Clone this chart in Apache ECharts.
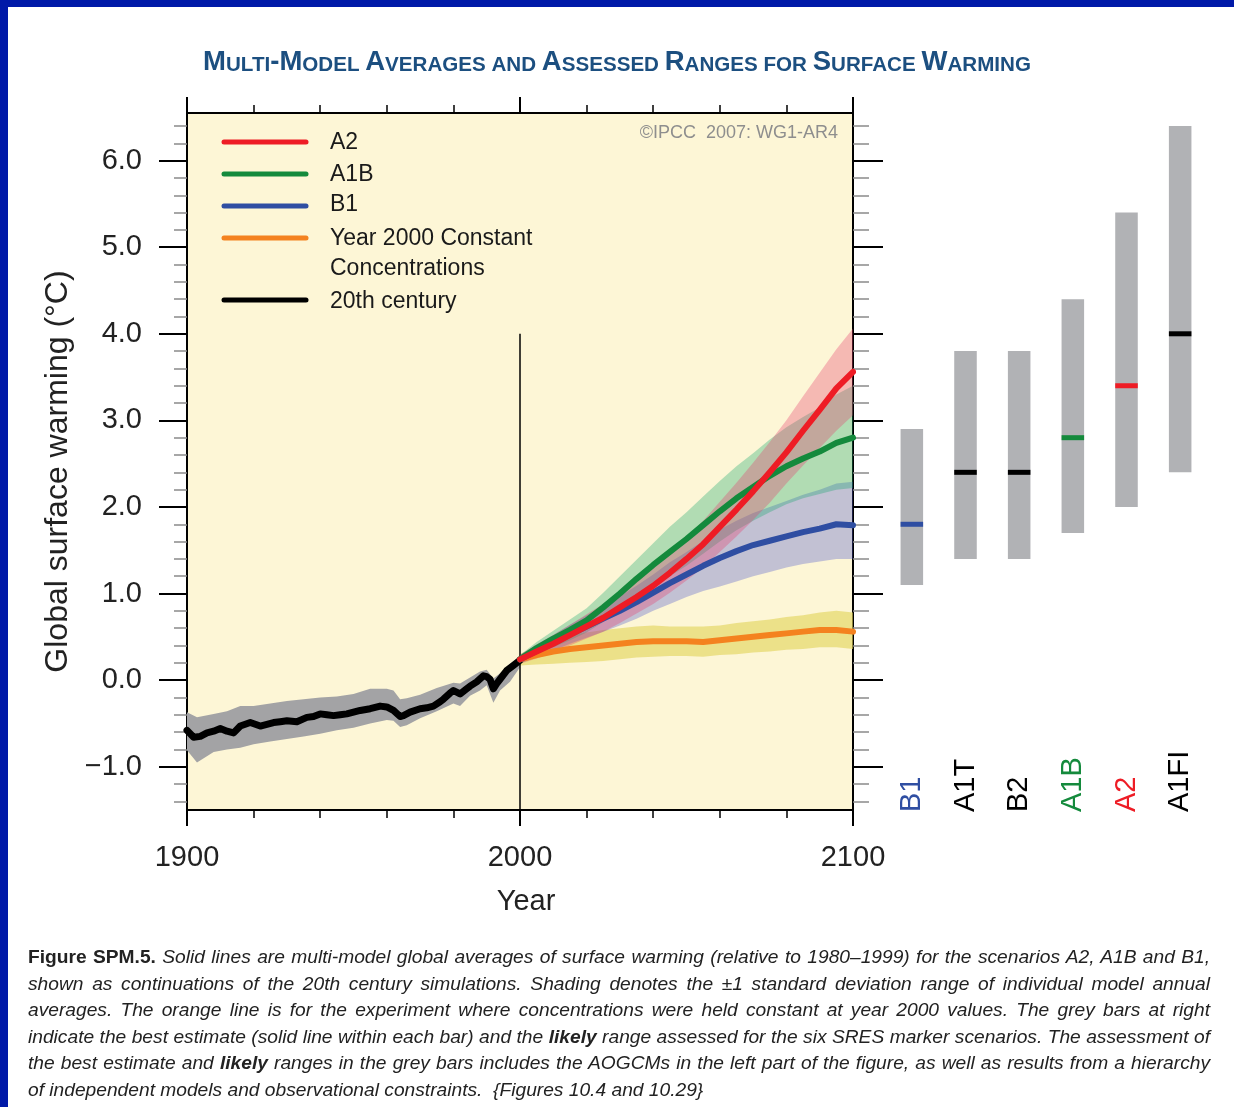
<!DOCTYPE html>
<html>
<head>
<meta charset="utf-8">
<script src="https://cdn.jsdelivr.net/npm/echarts@6/dist/echarts.min.js"></script>
<style>
html,body{margin:0;padding:0;background:#fff;}
#wrap{position:relative;width:1234px;height:1107px;overflow:hidden;background:#fff;}
#chart{position:absolute;left:0;top:0;width:1234px;height:1107px;}
#caption{position:absolute;left:28px;top:944px;width:1182px;font-family:'Liberation Sans',Arial,Helvetica,sans-serif;font-size:19.2px;line-height:26.6px;color:#222;font-style:italic;}
#caption .l{white-space:nowrap;text-align:justify;text-align-last:justify;}
#caption .last{text-align:left;text-align-last:left;}
#caption .fig{font-weight:bold;font-style:normal;}
#caption b{font-weight:bold;}
</style>
</head>
<body>
<div id="wrap">
<div id="chart"></div>
<div id="caption">
<div class="l"><span class="fig">Figure SPM.5.</span> Solid lines are multi-model global averages of surface warming (relative to 1980–1999) for the scenarios A2, A1B and B1,</div>
<div class="l">shown as continuations of the 20th century simulations. Shading denotes the ±1 standard deviation range of individual model annual</div>
<div class="l">averages. The orange line is for the experiment where concentrations were held constant at year 2000 values. The grey bars at right</div>
<div class="l">indicate the best estimate (solid line within each bar) and the <b>likely</b> range assessed for the six SRES marker scenarios. The assessment of</div>
<div class="l">the best estimate and <b>likely</b> ranges in the grey bars includes the AOGCMs in the left part of the figure, as well as results from a hierarchy</div>
<div class="l last">of independent models and observational constraints.&nbsp; {Figures 10.4 and 10.29}</div>
</div>
</div>
<script>
// ---------------- DATA ----------------
const years20 = [1900,1902,1904,1906,1908,1910,1912,1914,1916,1919,1922,1924,1926,1928,1930,1933,1936,1938,1940,1942,1944,1946,1948,1950,1952,1955,1958,1960,1962,1964,1965,1967,1970,1972,1974,1976,1977,1979,1980,1982,1984,1985,1987,1989,1990,1991,1992,1993,1994,1996,1998,2000];
const mean20 = [-0.58,-0.66,-0.65,-0.61,-0.59,-0.56,-0.59,-0.61,-0.53,-0.49,-0.53,-0.51,-0.49,-0.48,-0.47,-0.48,-0.43,-0.42,-0.39,-0.40,-0.41,-0.40,-0.39,-0.37,-0.35,-0.33,-0.30,-0.31,-0.35,-0.42,-0.41,-0.37,-0.33,-0.32,-0.30,-0.25,-0.22,-0.15,-0.12,-0.16,-0.10,-0.07,-0.02,0.05,0.04,0.01,-0.10,-0.04,0.01,0.11,0.17,0.23];
const bandYears20 = [1900,1903,1908,1912,1916,1920,1925,1930,1935,1940,1945,1950,1955,1960,1962,1964,1966,1970,1975,1980,1982,1985,1988,1990,1992,1994,1997,2000];
const low20 = [-0.81,-0.95,-0.83,-0.80,-0.78,-0.74,-0.71,-0.68,-0.65,-0.62,-0.58,-0.55,-0.50,-0.46,-0.47,-0.54,-0.52,-0.44,-0.36,-0.27,-0.30,-0.18,-0.12,-0.06,-0.26,-0.12,-0.02,0.15];
const high20 = [-0.37,-0.43,-0.39,-0.36,-0.30,-0.30,-0.27,-0.24,-0.22,-0.20,-0.19,-0.16,-0.10,-0.10,-0.12,-0.22,-0.21,-0.17,-0.09,-0.03,-0.04,0.03,0.10,0.12,0.02,0.08,0.19,0.27];

const yearsProj = [2000,2005,2010,2015,2020,2025,2030,2035,2040,2045,2050,2055,2060,2065,2070,2075,2080,2085,2090,2095,2100];
const a2Mean  = [0.24,0.33,0.42,0.52,0.62,0.72,0.84,0.96,1.09,1.24,1.40,1.57,1.77,1.97,2.18,2.40,2.63,2.88,3.12,3.37,3.56];
const a2Low   = [0.19,0.25,0.32,0.40,0.48,0.56,0.66,0.77,0.88,1.01,1.15,1.30,1.48,1.66,1.85,2.05,2.27,2.48,2.68,2.88,3.06];
const a2High  = [0.29,0.41,0.52,0.64,0.76,0.88,1.02,1.15,1.30,1.47,1.65,1.84,2.06,2.28,2.51,2.75,3.00,3.28,3.55,3.82,4.06];
const a1bMean = [0.24,0.37,0.48,0.58,0.69,0.84,1.00,1.17,1.33,1.48,1.63,1.79,1.95,2.10,2.23,2.36,2.47,2.56,2.64,2.74,2.80];
const a1bLow  = [0.19,0.30,0.38,0.46,0.55,0.67,0.80,0.95,1.08,1.20,1.32,1.46,1.60,1.73,1.84,1.94,2.03,2.10,2.15,2.20,2.22];
const a1bHigh = [0.29,0.44,0.57,0.70,0.83,1.01,1.20,1.39,1.58,1.77,1.94,2.12,2.30,2.47,2.62,2.78,2.92,3.04,3.15,3.30,3.40];
const b1Mean  = [0.24,0.34,0.43,0.53,0.62,0.71,0.80,0.90,1.01,1.12,1.22,1.32,1.41,1.49,1.56,1.61,1.66,1.71,1.75,1.80,1.79];
const b1Low   = [0.19,0.27,0.34,0.42,0.49,0.56,0.63,0.71,0.80,0.88,0.96,1.03,1.08,1.14,1.20,1.25,1.30,1.34,1.37,1.40,1.40];
const b1High  = [0.29,0.41,0.52,0.64,0.75,0.86,0.97,1.09,1.22,1.36,1.48,1.61,1.74,1.84,1.93,2.00,2.07,2.14,2.20,2.27,2.29];
const constMean = [0.24,0.29,0.33,0.36,0.38,0.40,0.42,0.44,0.45,0.45,0.45,0.44,0.46,0.48,0.50,0.52,0.54,0.56,0.58,0.58,0.56];
const constLow  = [0.17,0.18,0.19,0.20,0.21,0.22,0.24,0.26,0.27,0.28,0.28,0.27,0.29,0.30,0.32,0.33,0.35,0.36,0.38,0.38,0.36];
const constHigh = [0.30,0.40,0.47,0.52,0.55,0.58,0.60,0.62,0.63,0.62,0.62,0.62,0.63,0.66,0.68,0.70,0.73,0.75,0.78,0.80,0.78];

const scenarios    = ['B1','A1T','B2','A1B','A2','A1FI'];
const likelyLow    = [1.1,1.4,1.4,1.7,2.0,2.4];
const likelyHigh   = [2.9,3.8,3.8,4.4,5.4,6.4];
const bestEstimate = [1.8,2.4,2.4,2.8,3.4,4.0];
const scenarioColors = ['#2f4ea2','#000000','#000000','#148a3c','#ee1c25','#000000'];

const yMajorTicks = [-1,0,1,2,3,4,5,6];
const yMinorTicks = [-1.4,-1.2,-0.8,-0.6,-0.4,-0.2,0.2,0.4,0.6,0.8,1.2,1.4,1.6,1.8,2.2,2.4,2.6,2.8,3.2,3.4,3.6,3.8,4.2,4.4,4.6,4.8,5.2,5.4,5.6,5.8,6.2,6.4];

const legendItems = [
  {label:'A2', color:'#ee1c25'},
  {label:'A1B', color:'#148a3c'},
  {label:'B1', color:'#2f4ea2'},
  {label:'Year 2000 Constant\nConcentrations', color:'#f4821f'},
  {label:'20th century', color:'#000000'}
];

// ---------------- CHART ----------------
const FONT = "'Liberation Sans', Arial, Helvetica, sans-serif";
const chart = echarts.init(document.getElementById('chart'), null, {renderer:'canvas'});

function bandSeries(name, xs, lo, hi, color, z) {
  return {
    type:'custom', name:name, xAxisIndex:0, yAxisIndex:0, z:z, silent:true, animation:false,
    data: xs.map(function(x,i){return [x, lo[i], hi[i]];}),
    encode:{x:0, y:[1,2]},
    renderItem: function(params, api){
      if (params.dataIndexInside !== 0) return null;
      var pts = [];
      for (var i=0;i<xs.length;i++) pts.push(api.coord([xs[i], hi[i]]));
      for (var j=xs.length-1;j>=0;j--) pts.push(api.coord([xs[j], lo[j]]));
      return {type:'polygon', shape:{points:pts}, style:{fill:color}};
    }
  };
}
function lineSeries(name, xs, ys, color, width, z, extra) {
  var s = {
    type:'line', name:name, xAxisIndex:0, yAxisIndex:0, z:z, silent:true, animation:false,
    data: xs.map(function(x,i){return [x, ys[i]];}),
    showSymbol:false, symbol:'none',
    lineStyle:{color:color, width:width, cap:'round', join:'round'}
  };
  if (extra) Object.assign(s, extra);
  return s;
}

const legendGraphics = [];
const legendLineY = [142,174,206,238,300];
const legendTextY = [143,175,205,239,302];
legendItems.forEach(function(it, i){
  legendGraphics.push({type:'line', shape:{x1:224,y1:legendLineY[i],x2:306,y2:legendLineY[i]},
    style:{stroke:it.color, lineWidth:5, lineCap:'round'}, z:50});
  legendGraphics.push({type:'text', x:330, y:legendTextY[i] - 15,
    style:{text:it.label, fill:'#1a1a1a', font:'23px '+FONT, lineHeight:30, verticalAlign:'top'}, z:50});
});

const option = {
  backgroundColor:'#ffffff',
  animation:false,
  textStyle:{fontFamily:FONT},
  title:{
    left:'center', top:43,
    text:'{b|M}{s|ULTI}{b|-M}{s|ODEL }{b|A}{s|VERAGES AND }{b|A}{s|SSESSED }{b|R}{s|ANGES FOR }{b|S}{s|URFACE }{b|W}{s|ARMING}',
    textStyle:{
      rich:{
        b:{fontSize:27.5, fontWeight:'bold', color:'#1c4f80', fontFamily:FONT, verticalAlign:'bottom', lineHeight:28},
        s:{fontSize:20.6, fontWeight:'bold', color:'#1c4f80', fontFamily:FONT, verticalAlign:'bottom', lineHeight:23}
      }
    }
  },
  grid:[
    {left:187, top:113, width:666, height:697, show:true, backgroundColor:'#fdf6d6', borderWidth:0, containLabel:false},
    {left:885, top:113, width:322, height:697, show:false, containLabel:false}
  ],
  xAxis:[
    {type:'value', gridIndex:0, position:'bottom', min:1900, max:2100, interval:100,
     axisLine:{show:true, onZero:false, lineStyle:{color:'#000', width:2}},
     axisTick:{show:true, inside:false, length:16, lineStyle:{color:'#000', width:2}},
     minorTick:{show:true, splitNumber:5, length:8, lineStyle:{color:'#000', width:1.5}},
     splitLine:{show:false},
     axisLabel:{show:true, margin:33, fontSize:29, color:'#222', fontFamily:FONT,
       formatter:function(v){ return String(v); }},
     name:'Year', nameLocation:'middle', nameGap:77,
     nameTextStyle:{fontSize:29, color:'#222', fontFamily:FONT, padding:[0,0,0,12]}},
    {type:'value', gridIndex:0, position:'top', min:1900, max:2100, interval:100,
     axisLine:{show:true, onZero:false, lineStyle:{color:'#000', width:2}},
     axisTick:{show:true, inside:false, length:16, lineStyle:{color:'#000', width:2}},
     minorTick:{show:true, splitNumber:5, length:8, lineStyle:{color:'#000', width:1.5}},
     splitLine:{show:false}, axisLabel:{show:false}},
    {type:'category', gridIndex:1, position:'bottom', data:scenarios, boundaryGap:true,
     axisLine:{show:false}, axisTick:{show:false}, splitLine:{show:false},
     axisLabel:{show:true, inside:true, rotate:90, margin:-2, fontSize:29, fontFamily:FONT,
       color:function(v){ return scenarioColors[scenarios.indexOf(v)]; }}}
  ],
  yAxis:[
    {type:'value', gridIndex:0, position:'left', min:-1.5, max:6.55,
     axisLine:{show:true, onZero:false, lineStyle:{color:'#000', width:2}},
     axisTick:{show:true, inside:false, length:28, customValues:yMajorTicks, lineStyle:{color:'#000', width:2}},
     axisLabel:{show:true, margin:45, fontSize:29, color:'#222', fontFamily:FONT, customValues:yMajorTicks,
       formatter:function(v){ return (v<0?'\u2212':'') + Math.abs(v).toFixed(1); }},
     splitLine:{show:false},
     name:'Global surface warming (°C)', nameLocation:'middle', nameGap:111, nameRotate:90,
     nameTextStyle:{fontSize:32, color:'#222', fontFamily:FONT, padding:[0,20,0,0]}},
    {type:'value', gridIndex:0, position:'left', min:-1.5, max:6.55,
     axisLine:{show:false}, axisLabel:{show:false}, splitLine:{show:false},
     axisTick:{show:true, inside:false, length:13, customValues:yMinorTicks, lineStyle:{color:'#8a8a8a', width:1.5}}},
    {type:'value', gridIndex:0, position:'right', min:-1.5, max:6.55,
     axisLine:{show:true, onZero:false, lineStyle:{color:'#000', width:2}},
     axisTick:{show:true, inside:false, length:30, customValues:yMajorTicks, lineStyle:{color:'#000', width:2}},
     axisLabel:{show:false}, splitLine:{show:false}},
    {type:'value', gridIndex:0, position:'right', min:-1.5, max:6.55,
     axisLine:{show:false}, axisLabel:{show:false}, splitLine:{show:false},
     axisTick:{show:true, inside:false, length:16, customValues:yMinorTicks, lineStyle:{color:'#8a8a8a', width:1.5}}},
    {type:'value', gridIndex:1, min:-1.5, max:6.55, show:false}
  ],
  graphic:[
    {type:'rect', shape:{x:0,y:0,width:8,height:1107}, style:{fill:'#0019a8'}, z:100},
    {type:'rect', shape:{x:0,y:0,width:1234,height:7}, style:{fill:'#0019a8'}, z:100},
    {type:'text', x:838, y:133, style:{text:'©IPCC  2007: WG1-AR4', fill:'#8e8e8e', font:'18px '+FONT, textAlign:'right', textVerticalAlign:'middle'}, z:50}
  ].concat(legendGraphics),
  series:[
    bandSeries('20th century range', bandYears20, low20, high20, '#a3a3a5', 2),
    bandSeries('Constant range', yearsProj, constLow, constHigh, 'rgba(226,212,90,0.62)', 3),
    bandSeries('B1 range', yearsProj, b1Low, b1High, 'rgba(70,80,205,0.32)', 4),
    bandSeries('A1B range', yearsProj, a1bLow, a1bHigh, 'rgba(20,165,105,0.32)', 5),
    bandSeries('A2 range', yearsProj, a2Low, a2High, 'rgba(232,60,110,0.33)', 6),
    lineSeries('20th century', years20, mean20, '#000000', 7, 10, {
      markLine:{silent:true, symbol:['none','none'], label:{show:false},
        lineStyle:{color:'#000', width:1.5, type:'solid'},
        data:[[{coord:[2000,-1.5]},{coord:[2000,4.0]}]]}
    }),
    lineSeries('Year 2000 Constant Concentrations', yearsProj, constMean, '#f4821f', 6, 11),
    lineSeries('B1', yearsProj, b1Mean, '#2f4ea2', 6, 12),
    lineSeries('A1B', yearsProj, a1bMean, '#148a3c', 6, 13),
    lineSeries('A2', yearsProj, a2Mean, '#ee1c25', 6, 14),
    {
      type:'custom', name:'Likely range', xAxisIndex:2, yAxisIndex:4, silent:true, animation:false, z:5,
      data: scenarios.map(function(s,i){return [s, likelyLow[i], likelyHigh[i], bestEstimate[i]];}),
      encode:{x:0, y:[1,2,3]},
      renderItem:function(params, api){
        var idx = params.dataIndex;
        var top = api.coord([api.value(0), api.value(2)]);
        var bot = api.coord([api.value(0), api.value(1)]);
        var best = api.coord([api.value(0), api.value(3)]);
        var w = api.size([1,0])[0]*0.42;
        return {type:'group', children:[
          {type:'rect', shape:{x:top[0]-w/2, y:top[1], width:w, height:bot[1]-top[1]}, style:{fill:'#b1b2b5'}},
          {type:'rect', shape:{x:top[0]-w/2, y:best[1]-2.5, width:w, height:5}, style:{fill:scenarioColors[idx]}}
        ]};
      }
    }
  ]
};
chart.setOption(option);
</script>
</body>
</html>
